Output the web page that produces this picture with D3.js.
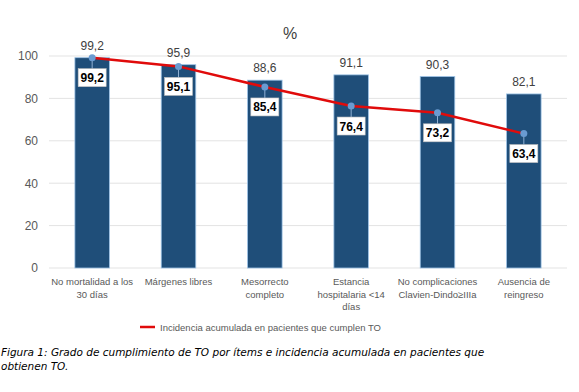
<!DOCTYPE html>
<html>
<head>
<meta charset="utf-8">
<script src="https://cdn.jsdelivr.net/npm/d3@7"></script>
<style>
  body { margin: 0; background: #fff; }
  #chart { width: 579px; height: 392px; }
  text { font-family: "Liberation Sans", Arial, sans-serif; }
</style>
</head>
<body>
<div id="chart"></div>
<script>
// Data
const categories = [
    ["No mortalidad a los", "30 días"],
    ["Márgenes libres"],
    ["Mesorrecto", "completo"],
    ["Estancia", "hospitalaria <14", "días"],
    ["No complicaciones", "Clavien-Dindo≥IIIa"],
    ["Ausencia de", "reingreso"]
];
const barValues = [99.2, 95.9, 88.6, 91.1, 90.3, 82.1];
const lineValues = [99.2, 95.1, 85.4, 76.4, 73.2, 63.4];
const yTicks = [0, 20, 40, 60, 80, 100];
const legendLabel = "Incidencia acumulada en pacientes que cumplen TO";
const captionLines = [
    "Figura 1: Grado de cumplimiento de TO por ítems e incidencia acumulada en pacientes que",
    "obtienen TO."
];

const fmt = v => v.toFixed(1).replace(".", ",");

const svg = d3.select("#chart")
    .append("svg")
    .attr("width", 579)
    .attr("height", 392);

const margin = { left: 49, right: 12, top: 56, bottom: 124 };
const width = 579 - margin.left - margin.right;
const height = 392 - margin.top - margin.bottom;

const g = svg.append("g")
    .attr("transform", `translate(${margin.left},${margin.top})`);

// Scales
const x = d3.scaleBand()
    .domain(d3.range(categories.length))
    .range([0, width])
    .paddingInner(0.6)
    .paddingOuter(0.3);

const y = d3.scaleLinear()
    .domain([0, 100])
    .range([height, 0]);

// Title
svg.append("text")
    .attr("x", 290)
    .attr("y", 39)
    .attr("text-anchor", "middle")
    .style("font-size", "16px")
    .style("fill", "#404040")
    .text("%");

// Gridlines
g.selectAll(".grid")
    .data(yTicks)
    .enter()
    .append("line")
    .attr("x1", 0)
    .attr("x2", width)
    .attr("y1", d => y(d))
    .attr("y2", d => y(d))
    .style("stroke", "#e3e3e3")
    .style("stroke-width", 1);

// Y axis
const yAxis = d3.axisLeft(y).tickValues(yTicks).tickSize(0).tickPadding(11);
const yAxisGroup = g.append("g").call(yAxis);
yAxisGroup.select(".domain").remove();
yAxisGroup.selectAll("text")
    .style("font-size", "12px")
    .style("fill", "#595959");

// Bars
g.selectAll(".bar")
    .data(barValues)
    .enter()
    .append("rect")
    .attr("x", (d, i) => x(i))
    .attr("y", d => y(d))
    .attr("width", x.bandwidth())
    .attr("height", d => height - y(d))
    .style("fill", "#1f4e79")
    .style("stroke", "#9dc3e6")
    .style("stroke-width", 0.8);

// Bar labels
g.selectAll(".barLabel")
    .data(barValues)
    .enter()
    .append("text")
    .attr("x", (d, i) => x(i) + x.bandwidth() / 2)
    .attr("y", d => y(d) - 8)
    .attr("text-anchor", "middle")
    .style("font-size", "12px")
    .style("fill", "#404040")
    .text(d => fmt(d));

// X labels
const xLabels = g.selectAll(".xLabel")
    .data(categories)
    .enter()
    .append("text")
    .attr("x", (d, i) => x(i) + x.bandwidth() / 2)
    .attr("y", height + 17)
    .attr("text-anchor", "middle")
    .style("font-size", "9.5px")
    .style("fill", "#595959");

xLabels.each(function(d) {
    const t = d3.select(this);
    d.forEach((line, k) => {
        t.append("tspan")
            .attr("x", t.attr("x"))
            .attr("dy", k === 0 ? 0 : 12.5)
            .text(line);
    });
});

// Line
const cx = i => x(i) + x.bandwidth() / 2;
const line = d3.line()
    .x((d, i) => cx(i))
    .y(d => y(d));

g.append("path")
    .datum(lineValues)
    .attr("d", line)
    .style("fill", "none")
    .style("stroke", "#e00b0b")
    .style("stroke-width", 2.5);

// Leader lines and labels
const labelOffset = 11;
const boxW = 28, boxH = 18;

g.selectAll(".leader")
    .data(lineValues)
    .enter()
    .append("line")
    .attr("x1", (d, i) => cx(i))
    .attr("x2", (d, i) => cx(i))
    .attr("y1", d => y(d))
    .attr("y2", d => y(d) + labelOffset)
    .style("stroke", "#8fb0d3")
    .style("stroke-width", 1);

g.selectAll(".marker")
    .data(lineValues)
    .enter()
    .append("circle")
    .attr("cx", (d, i) => cx(i))
    .attr("cy", d => y(d))
    .attr("r", 3.5)
    .style("fill", "#6a9bd1");

g.selectAll(".lineBox")
    .data(lineValues)
    .enter()
    .append("rect")
    .attr("x", (d, i) => cx(i) - boxW / 2)
    .attr("y", d => y(d) + labelOffset)
    .attr("width", boxW)
    .attr("height", boxH)
    .style("fill", "#fff")
    .style("stroke", "#bfbfbf")
    .style("stroke-width", 0.6);

g.selectAll(".lineLabel")
    .data(lineValues)
    .enter()
    .append("text")
    .attr("x", (d, i) => cx(i))
    .attr("y", d => y(d) + labelOffset + 13.5)
    .attr("text-anchor", "middle")
    .style("font-size", "12px")
    .style("font-weight", "bold")
    .style("fill", "#000")
    .text(d => fmt(d));

// Legend
const legend = svg.append("g").attr("transform", "translate(140,327)");
legend.append("line")
    .attr("x1", 0)
    .attr("x2", 15)
    .style("stroke", "#e00b0b")
    .style("stroke-width", 2.5);
legend.append("text")
    .attr("x", 20)
    .attr("y", 3.5)
    .style("font-size", "9.5px")
    .style("fill", "#595959")
    .text(legendLabel);

// Caption
svg.selectAll(".caption")
    .data(captionLines)
    .enter()
    .append("text")
    .attr("x", 1)
    .attr("y", (d, i) => 356 + i * 14)
    .style("font-family", "'DejaVu Sans', Verdana, sans-serif")
    .style("font-style", "italic")
    .style("font-size", "10.5px")
    .style("fill", "#000")
    .text(d => d);
</script>
</body>
</html>
